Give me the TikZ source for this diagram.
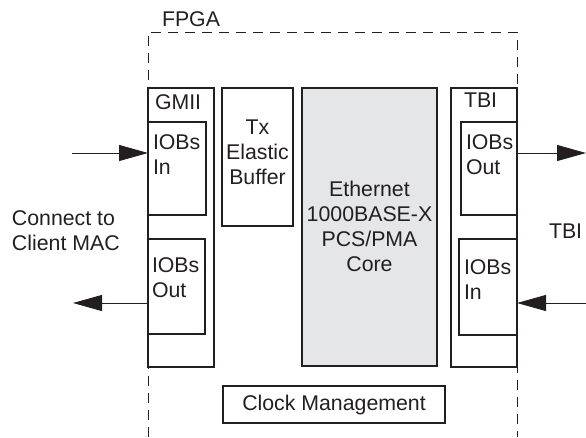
\documentclass[tikz,border=0pt]{standalone}
\usepackage{fontspec}
\setmainfont{Liberation Sans}
\usetikzlibrary{arrows.meta}
\definecolor{ink}{HTML}{231F20}
\definecolor{coregray}{HTML}{E5E6E7}
\begin{document}
\begin{tikzpicture}[x=1pt,y=-1pt,
  blk/.style={draw=ink, line width=1.9pt, rectangle, inner sep=0pt, outer sep=0pt, anchor=north west},
  txt/.style={text=ink, inner sep=0pt, outer sep=0pt, font=\fontsize{21.3}{25}\selectfont},
  lbl/.style={txt, anchor=north west, align=left},
  ctr/.style={txt, anchor=north, align=center},
  arr/.style={draw=ink, line width=1pt, -{Triangle[length=29pt,width=16pt]}},
  fpgaline/.style={draw=ink, line width=1pt, dash pattern=on 10pt off 7pt}]
\useasboundingbox (0,0) rectangle (586,437);

% FPGA boundary (open at the bottom)
\draw[fpgaline] (148,437) -- (148,32) -- (517,32) -- (517,437);
\node[lbl] (fpga) at (162,12) {FPGA};

% GMII side
\node[blk, minimum width=66pt, minimum height=279pt] (gmii) at (148,88) {};
\node[lbl] (gmiilbl) at (155,95) {GMII};
\node[blk, minimum width=58pt, minimum height=93pt] (inL) at (148,122) {};
\node[lbl] (inLlbl) at (153,135) {IOBs\\In};
\node[blk, minimum width=57pt, minimum height=95pt] (outL) at (148,239) {};
\node[lbl] (outLlbl) at (152,258) {IOBs\\Out};

% Elastic buffer and core
\node[blk, minimum width=71pt, minimum height=138pt] (tx) at (222,88) {};
\node[ctr] (txlbl) at (257.5,120) {Tx\\Elastic\\Buffer};
\node[blk, fill=coregray, minimum width=135pt, minimum height=278pt] (core) at (302,88) {};
\node[ctr] (corelbl) at (369.5,181) {Ethernet\\1000BASE-X\\PCS/PMA\\Core};

% TBI side
\node[blk, minimum width=66pt, minimum height=279pt] (tbi) at (451,88) {};
\node[lbl] (tbilbl) at (464,93) {TBI};
\node[blk, minimum width=56pt, minimum height=93pt] (outR) at (461,122) {};
\node[lbl] (outRlbl) at (466,135) {IOBs\\Out};
\node[blk, minimum width=58pt, minimum height=96pt] (inR) at (459,239) {};
\node[lbl] (inRlbl) at (464,260) {IOBs\\In};

% Clock management
\node[blk, txt, line width=1.9pt, draw=ink, minimum width=222pt, minimum height=37pt, anchor=north west] (clk) at (223,386) {Clock Management};

% External labels
\node[lbl] (client) at (12,211) {Connect to\\Client MAC};
\node[txt, anchor=west] (tbiext) at (549,231) {TBI};

% Connections
\coordinate (srcL) at (72,153);
\coordinate (dstL) at (73,303);
\coordinate (dstR) at (586,153);
\coordinate (srcR) at (586,303);
\draw[arr] (srcL) -- (srcL -| inL.west);
\draw[arr] (outL.west |- dstL) -- (dstL);
\draw[arr] (outR.east |- dstR) -- (dstR);
\draw[arr] (srcR) -- (srcR -| inR.east);
\end{tikzpicture}
\end{document}
